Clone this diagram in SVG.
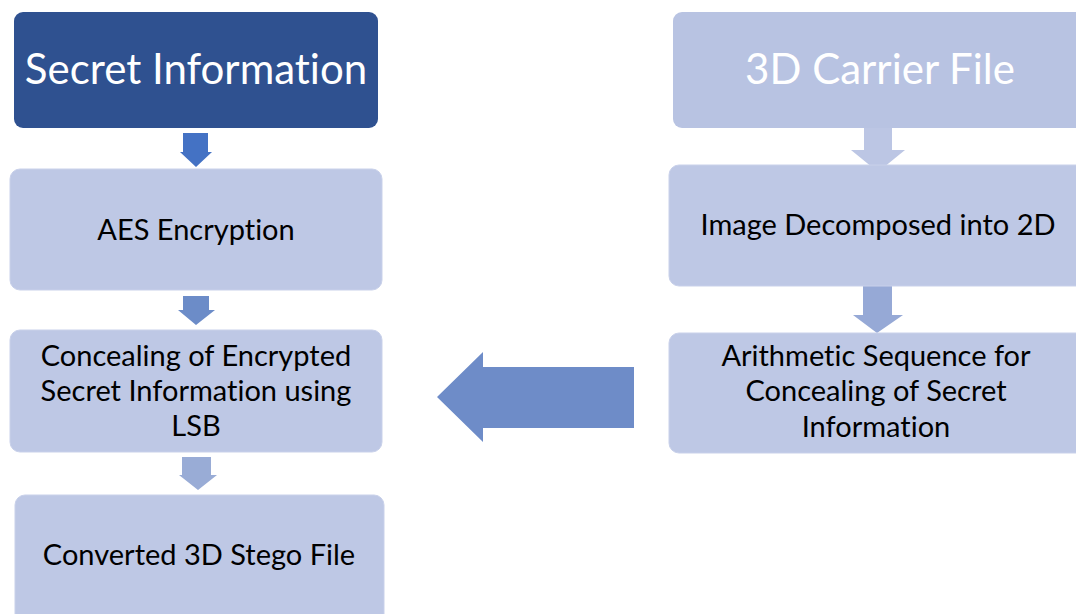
<svg xmlns="http://www.w3.org/2000/svg" width="1076" height="614" viewBox="0 0 1076 614">
<style>
.box{fill:#BEC8E5;stroke:#C9D1EA;stroke-width:1}
.t{font-family:Lato,"Liberation Sans",sans-serif;font-size:29px;fill:#000;text-anchor:middle;font-variant-ligatures:none}
.big{font-family:Lato,"Liberation Sans",sans-serif;font-size:42px;fill:#fff;text-anchor:middle;font-variant-ligatures:none}
</style>
<rect width="1076" height="614" fill="#fff"/>
<g id="connectors">
<polygon points="183,133 208,133 208,152 212,152 196,167 180,152 183,152" fill="#4472C4"/>
<polygon points="183,296 209,296 209,310 215,310 196,325 178,310 183,310" fill="#6C8CC8"/>
<polygon points="182,457 211,457 211,475 217,475 198,490 179,475 182,475" fill="#99ACD6"/>
<polygon points="864,124 892,124 892,150 905,150 878,172 851,150 864,150" fill="#BCC6E4"/>
<polygon points="863,285 892,285 892,315 903,315 877,333 853,315 863,315" fill="#96A9D6"/>
<polygon points="634,367 483,367 483,352 437,397 483,442 483,428 634,428" fill="#6E8CC8"/>
</g>
<g id="n1"><rect x="14" y="12" width="364" height="116" rx="9" fill="#2F5190"/><text class="big" x="196" y="84">Secret Information</text></g>
<g id="n2"><rect class="box" x="10" y="169" width="372" height="121" rx="10"/><text class="t" x="196" y="240">AES Encryption</text></g>
<g id="n3"><rect class="box" x="10" y="330" width="372" height="122" rx="10"/><text class="t" x="196" y="366">Concealing of Encrypted</text><text class="t" x="196" y="401">Secret Information using</text><text class="t" x="196" y="436">LSB</text></g>
<g id="n4"><rect class="box" x="15" y="495" width="369" height="130" rx="10"/><text class="t" x="199" y="565">Converted 3D Stego File</text></g>
<g id="r1"><rect x="673" y="12" width="420" height="116" rx="9" fill="#B8C3E2"/><text class="big" x="880" y="84">3D Carrier File</text></g>
<g id="r2"><rect class="box" x="669" y="165" width="420" height="121" rx="10"/><text class="t" x="878" y="235">Image Decomposed into 2D</text></g>
<g id="r3"><rect class="box" x="669" y="333" width="420" height="120" rx="10"/><text class="t" x="876" y="366">Arithmetic Sequence for</text><text class="t" x="876" y="401">Concealing of Secret</text><text class="t" x="876" y="437">Information</text></g>
</svg>
